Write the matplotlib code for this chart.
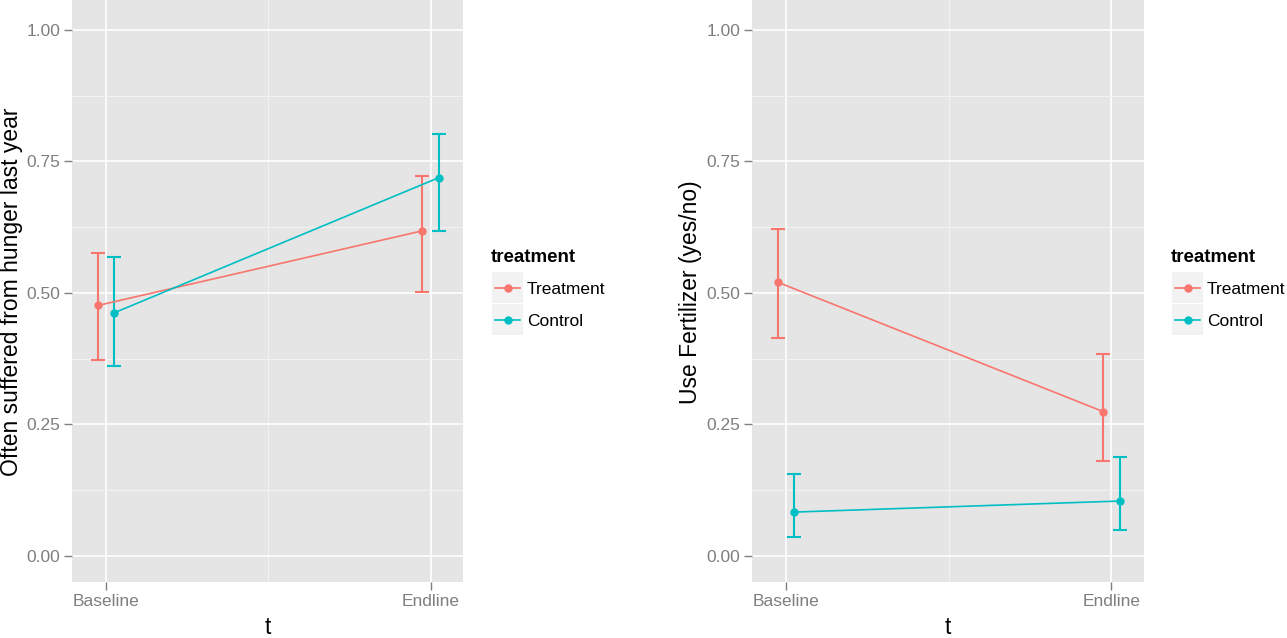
import matplotlib
matplotlib.use('agg')
import matplotlib.pyplot as plt
from matplotlib.lines import Line2D
from matplotlib.patches import Rectangle
import numpy as np

plt.rcParams['font.family'] = ['Liberation Sans', 'DejaVu Sans']

phases = ['Baseline', 'Endline']
groups = ['Treatment', 'Control']
colors = ['#F8766D', '#00BFC4']

# hunger panel
hunger_mean = {'Treatment': [0.476, 0.618], 'Control': [0.462, 0.719]}
hunger_lo = {'Treatment': [0.372, 0.501], 'Control': [0.361, 0.617]}
hunger_hi = {'Treatment': [0.575, 0.722], 'Control': [0.568, 0.803]}

# fertilizer panel
fert_mean = {'Treatment': [0.520, 0.274], 'Control': [0.083, 0.104]}
fert_lo = {'Treatment': [0.415, 0.180], 'Control': [0.036, 0.049]}
fert_hi = {'Treatment': [0.622, 0.384], 'Control': [0.155, 0.187]}

W, H = 1287, 638
fig = plt.figure(figsize=(W / 100, H / 100), dpi=100)


def fx(px):
    return px / W


def fy(py):
    return 1 - py / H


def panel(left_px, width_px, mean, lo, hi, ylabel, ylabel_x):
    ax = fig.add_axes([fx(left_px), fy(582), width_px / W, 582 / H])
    ax.set_facecolor('#E5E5E5')
    for s in ax.spines.values():
        s.set_visible(False)
    ax.set_xlim(1 - 0.105, 2 + 0.1)
    ax.set_ylim(-0.05, 1.057)
    ax.set_yticks([0, 0.25, 0.5, 0.75, 1.0])
    ax.set_yticklabels(['0.00', '0.25', '0.50', '0.75', '1.00'])
    ax.set_yticks([0.125, 0.375, 0.625, 0.875], minor=True)
    ax.set_xticks([1, 2])
    ax.set_xticklabels(phases)
    ax.set_xticks([1.5], minor=True)
    ax.grid(True, which='major', color='white', lw=1.2)
    ax.grid(True, which='minor', color='#F2F2F2', lw=0.8)
    ax.set_axisbelow(True)
    ax.tick_params(which='major', length=5.5, width=1, color='#7F7F7F',
                   labelcolor='#7F7F7F', labelsize=12.5, pad=3)
    ax.tick_params(which='minor', length=0)
    x = np.arange(1, len(phases) + 1)
    for i, (g, c) in enumerate(zip(groups, colors)):
        xd = x + (-0.025 if i == 0 else 0.025)
        m = np.array(mean[g])
        err = [m - np.array(lo[g]), np.array(hi[g]) - m]
        ax.errorbar(xd, m, yerr=err, fmt='none', ecolor=c, elinewidth=1.5,
                    capsize=5, capthick=1.5, zorder=3)
        ax.plot(xd, m, '-', color=c, lw=1.2, marker='o', ms=5, zorder=4)
    fig.text(fx(ylabel_x), fy(292), ylabel, rotation=90, ha='center',
             va='center', fontsize=16.5)
    fig.text(fx(left_px + width_px / 2), fy(627), 't', ha='center',
             va='center', fontsize=16.5)
    return ax


def legend(x0):
    fig.text(fx(x0), fy(258), 'treatment', fontweight='bold', fontsize=13.5,
             ha='left', va='center')
    for i, (g, c) in enumerate(zip(groups, colors)):
        top = 272 + i * 32
        fig.patches.append(Rectangle((fx(x0 + 1), fy(top + 31)), 31 / W, 31 / H,
                                     transform=fig.transFigure,
                                     facecolor='#F2F2F2', edgecolor='none'))
        yc = fy(top + 16)
        fig.lines.append(Line2D([fx(x0 + 4), fx(x0 + 29)], [yc, yc],
                                transform=fig.transFigure, color=c, lw=1.2))
        fig.lines.append(Line2D([fx(x0 + 16.5)], [yc], transform=fig.transFigure,
                                color=c, marker='o', ms=5))
        fig.text(fx(x0 + 36), fy(top + 18), g, fontsize=12.5, ha='left', va='center')


panel(72, 391, hunger_mean, hunger_lo, hunger_hi,
      'Often suffered from hunger last year', 12)
panel(752, 392, fert_mean, fert_lo, fert_hi,
      'Use Fertilizer (yes/no)', 690)
legend(491)
legend(1171)

fig.savefig('out.png', dpi=100)
